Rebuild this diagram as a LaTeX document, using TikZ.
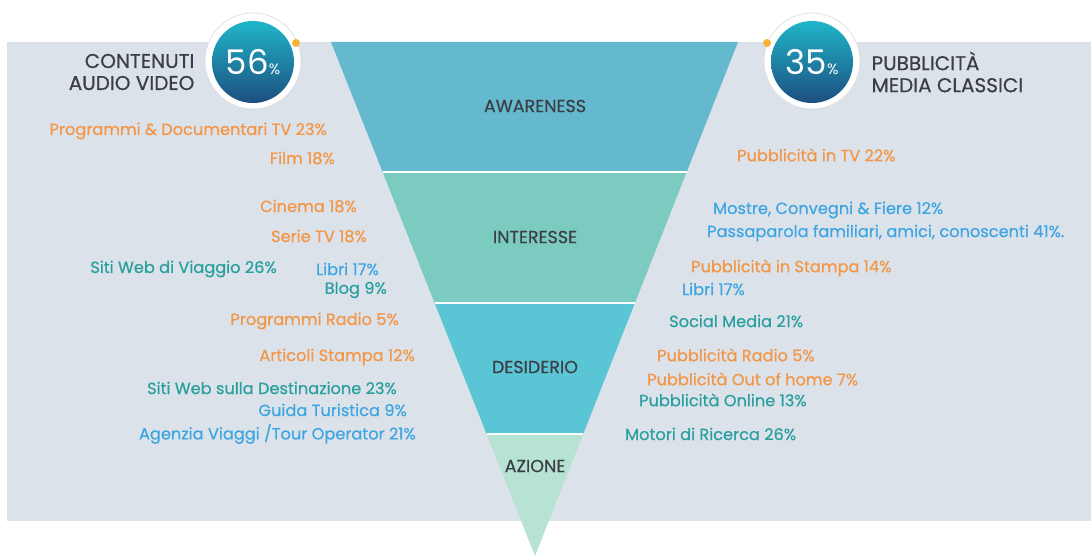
\documentclass[tikz,border=0pt]{standalone}
\usepackage{fontspec}
\setmainfont{Poppins}
\newfontfamily\itemfont{Poppins}[FakeBold=0.5]
\usetikzlibrary{positioning}

\definecolor{bggrey}{HTML}{DCE2E9}
\definecolor{awacol}{HTML}{64B9CF}
\definecolor{intcol}{HTML}{7BCBC1}
\definecolor{descol}{HTML}{5AC6D5}
\definecolor{azicol}{HTML}{B6E3D4}
\definecolor{orangetxt}{HTML}{F39646}
\definecolor{tealtxt}{HTML}{2A9FA0}
\definecolor{bluetxt}{HTML}{3DA5E2}
\definecolor{darktxt}{HTML}{3B3F44}
\definecolor{circtop}{HTML}{1FB6C9}
\definecolor{circbot}{HTML}{1D4E80}
\definecolor{dotcol}{HTML}{F6B335}

\begin{document}
\begin{tikzpicture}[
    x=1pt, y=-1pt,
    font=\itemfont\fontsize{16.2}{18}\selectfont,
    item/.style={inner sep=0pt},
    orangeitem/.style={item, text=orangetxt},
    tealitem/.style={item, text=tealtxt},
    blueitem/.style={item, text=bluetxt},
    stage/.style={inner sep=0pt, text=darktxt, font=\itemfont\fontsize{17.5}{19}\selectfont},
    header/.style={inner sep=0pt, align=left, text=darktxt, font=\itemfont\fontsize{20}{22}\selectfont},
    ring/.style={circle, fill=white, draw=black!12, line width=0.8pt, minimum size=96pt, inner sep=0pt},
    badge/.style={circle, top color=circtop, bottom color=circbot, minimum size=82pt, inner sep=0pt, text=white, font=\normalfont},
    dot/.style={circle, fill=dotcol, minimum size=8pt, inner sep=0pt}
  ]
    \useasboundingbox (0,0) rectangle (1091,556);
    \fill[bggrey] (7,42) rectangle (1091,521);

    % funnel
    \fill[awacol] (331,42) -- (738,42) -- (686.7,172) -- (382.6,172) -- cycle;
    \fill[intcol] (382.6,172) -- (686.7,172) -- (634.9,303) -- (434.6,303) -- cycle;
    \fill[descol] (434.6,303) -- (634.9,303) -- (583.2,434) -- (486.6,434) -- cycle;
    \fill[azicol] (486.6,434) -- (583.2,434) -- (535,556) -- cycle;
    \draw[white, line width=1.5pt] (382.6,172) -- (686.7,172)
      (434.6,303) -- (634.9,303) (486.6,434) -- (583.2,434);

    \node[stage] (awareness) at (535,106) {AWARENESS};
    \node[stage] (interesse) at (535,237) {INTERESSE};
    \node[stage] (desiderio) at (535,367) {DESIDERIO};
    \node[stage] (azione) at (535,466) {AZIONE};

    % badges
    \node[ring] (ring56) at (253,61) {};
    \node[badge] (c56) at (253,62) {\fontsize{34}{34}\selectfont 56\fontsize{15}{15}\selectfont\%};
    \node[dot] (dot56) at (296,43) {};
    \node[header, align=right, left=10pt of ring56, yshift=-11pt] (hleft) {CONTENUTI\\AUDIO VIDEO};

    \node[ring] (ring35) at (812,61) {};
    \node[badge] (c35) at (812,62) {\fontsize{34}{34}\selectfont 35\fontsize{15}{15}\selectfont\%};
    \node[dot] (dot35) at (767,43) {};
    \node[header, right=11pt of ring35, yshift=-11pt] (hright) {PUBBLICITÀ\\MEDIA CLASSICI};

    % left column
    \node[orangeitem, anchor=east] (progtv) at (327,131) {Programmi \& Documentari TV 23\%};
    \node[orangeitem, anchor=east] (film) at (335,158) {Film 18\%};
    \node[orangeitem, anchor=east] (cinema) at (357,206) {Cinema 18\%};
    \node[orangeitem, anchor=east] (serie) at (367,236) {Serie TV 18\%};
    \node[tealitem, anchor=east] (sitiviaggio) at (277,269) {Siti Web di Viaggio 26\%};
    \node[blueitem, anchor=east] (libril) at (379,269) {Libri 17\%};
    \node[tealitem, anchor=east] (blog) at (387,290) {Blog 9\%};
    \node[orangeitem, anchor=east] (progradio) at (399,321) {Programmi Radio 5\%};
    \node[orangeitem, anchor=east] (articoli) at (415,357) {Articoli Stampa 12\%};
    \node[tealitem, anchor=east] (sitidest) at (397,388) {Siti Web sulla Destinazione 23\%};
    \node[blueitem, anchor=east] (guida) at (407,410) {Guida Turistica 9\%};
    \node[blueitem, anchor=east] (agenzia) at (416,434) {Agenzia Viaggi /Tour Operator 21\%};

    % right column
    \node[orangeitem, anchor=west] (pubtv) at (737,155) {Pubblicità in TV 22\%};
    \node[blueitem, anchor=west] (mostre) at (713,210) {Mostre, Convegni \& Fiere 12\%};
    \node[blueitem, anchor=west] (passaparola) at (707,233) {Passaparola familiari, amici, conoscenti 41\%.};
    \node[orangeitem, anchor=west] (pubstampa) at (691,268) {Pubblicità in Stampa 14\%};
    \node[blueitem, anchor=west] (librir) at (682,289) {Libri 17\%};
    \node[tealitem, anchor=west] (social) at (669,321) {Social Media 21\%};
    \node[orangeitem, anchor=west] (pubradio) at (657,355) {Pubblicità Radio 5\%};
    \node[orangeitem, anchor=west] (pubout) at (647,379) {Pubblicità Out of home 7\%};
    \node[tealitem, anchor=west] (pubonline) at (639,400) {Pubblicità Online 13\%};
    \node[tealitem, anchor=west] (motori) at (625,434) {Motori di Ricerca 26\%};
\end{tikzpicture}
\end{document}
